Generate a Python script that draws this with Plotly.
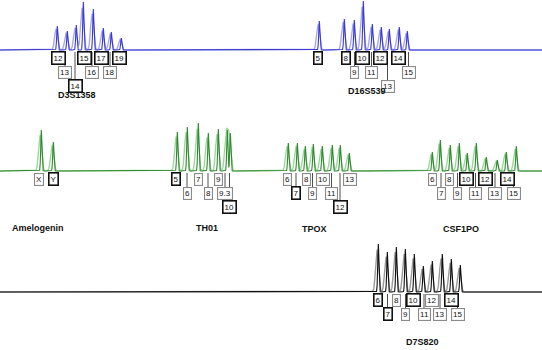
import numpy as np
import plotly.graph_objects as go

# ---------------- data (peak size position, relative height) ----------------
# Row 1 (blue dye)
d3_alleles = ["12", "13", "14", "15", "16", "17", "18", "19"]
d3_pos = [57, 67, 76, 83, 93, 103, 111, 121]
d3_height = [24, 19, 25, 48, 41, 22, 18, 12]

d16_alleles = ["5", "8", "9", "10", "11", "12", "13", "14", "15"]
d16_pos = [319, 344, 354, 363, 372, 381, 389, 399, 407]
d16_height = [29, 31, 30, 49, 26, 23, 21, 23, 19]

# Row 2 (green dye)
amel_alleles = ["X", "Y"]
amel_pos = [41, 53]
amel_height = [41, 29]

th01_alleles = ["5", "6", "7", "8", "9", "9.3", "10"]
th01_pos = [177, 187, 198, 208, 218, 227, 230]
th01_height = [39, 44, 48, 38, 42, 41, 38]

tpox_alleles = ["6", "7", "8", "9", "10", "11", "12", "13"]
tpox_pos = [288, 297, 305, 313, 322, 332, 340, 349]
tpox_height = [28, 28, 25, 27, 25, 26, 26, 18]

csf_alleles = ["6", "7", "8", "9", "10", "11", "12", "13", "14", "15"]
csf_pos = [432, 440, 450, 459, 467, 476, 486, 497, 506, 516]
csf_height = [19, 31, 26, 28, 18, 28, 14, 11, 19, 25]

# Row 3 (black dye)
d7_alleles = ["6", "7", "8", "9", "10", "11", "12", "13", "14", "15"]
d7_pos = [378, 387, 396, 405, 414, 423, 432, 442, 451, 460]
d7_height = [48, 40, 45, 43, 38, 26, 31, 38, 33, 27]

# ---------------- label layout / style (not data) ----------------
loci = [
    # name, alleles, pos, heights, label x, label tier, bold box, row, name x, name y
    ("D3S1358", d3_alleles, d3_pos, d3_height,
     [58, 65, 75, 84, 92, 101.5, 110, 119.5], [1, 2, 3, 1, 2, 1, 2, 1],
     [1, 0, 1, 1, 0, 1, 0, 1], 1, 77, -45),
    ("D16S539", d16_alleles, d16_pos, d16_height,
     [318, 345.5, 354.5, 362.5, 371.5, 380, 387.5, 398, 408.5], [1, 1, 2, 1, 2, 1, 3, 1, 2],
     [1, 1, 0, 1, 0, 1, 0, 1, 0], 1, 367, -41),
    ("Amelogenin", amel_alleles, amel_pos, amel_height,
     [39, 53], [1, 1], [0, 1], 2, 38, -57),
    ("TH01", th01_alleles, th01_pos, th01_height,
     [175.5, 187, 198.5, 208, 218, 225, 229.5], [1, 2, 1, 2, 1, 2, 3],
     [1, 0, 0, 0, 0, 0, 1], 2, 207, -57),
    ("TPOX", tpox_alleles, tpox_pos, tpox_height,
     [287.5, 296, 306, 312.5, 323, 331.5, 340, 350], [1, 2, 1, 2, 1, 2, 3, 1],
     [0, 1, 0, 0, 0, 0, 1, 0], 2, 314, -58),
    ("CSF1PO", csf_alleles, csf_pos, csf_height,
     [432, 441, 449.5, 457.5, 466.5, 475.5, 485.5, 495, 507, 513.5], [1, 2, 1, 2, 1, 2, 1, 2, 1, 2],
     [0, 0, 0, 0, 1, 0, 1, 0, 1, 0], 2, 461, -58),
    ("D7S820", d7_alleles, d7_pos, d7_height,
     [377.5, 387.5, 396, 405.5, 413, 424, 432, 440, 451.5, 457.5], [1, 2, 1, 2, 1, 2, 1, 2, 1, 2],
     [1, 1, 0, 0, 1, 0, 0, 0, 1, 0], 3, 422, -50),
]

row_colors = {1: ("#3a3ad0", "#a9a9f2"), 2: ("#2f8a2f", "#9fd69f"), 3: ("#111111", "#9a9a9a")}
tier_offset = {1: 8, 2: 22, 3: 36}

xgrid = np.linspace(0, 542, 5421)

fig = go.Figure()
for row in (1, 2, 3):
    dark, light = row_colors[row]
    ys_light = np.zeros_like(xgrid)
    ys_dark = np.zeros_like(xgrid)
    for (name, al, pos, hts, lx, tier, bold, r, nx, ny) in loci:
        if r != row:
            continue
        for p, h in zip(pos, hts):
            ys_light += 0.88 * h * np.exp(-0.5 * ((xgrid - (p - 0.9)) / 1.5) ** 2)
            ys_dark += h * np.exp(-0.5 * ((xgrid - (p + 0.3)) / 0.6) ** 2)
    yname = "y" if row == 1 else f"y{row}"
    fig.add_trace(go.Scatter(x=xgrid, y=ys_light, mode="lines", yaxis=yname,
                             line=dict(color=light, width=1.4), hoverinfo="skip", showlegend=False))
    fig.add_trace(go.Scatter(x=xgrid, y=ys_dark, mode="lines", yaxis=yname,
                             line=dict(color=dark, width=1.1), hoverinfo="skip", showlegend=False))

annotations = []
shapes = []
for (name, al, pos, hts, lx, tier, bold, r, nx, ny) in loci:
    yref = "y" if r == 1 else f"y{r}"
    for a, x, t, b in zip(al, lx, tier, bold):
        off = tier_offset[t]
        if t > 1:
            shapes.append(dict(type="line", xref="x", yref=yref, x0=x, x1=x, y0=-2, y1=-off + 5,
                               line=dict(color="#222222", width=0.8), layer="below"))
        annotations.append(dict(x=x, y=-off, xref="x", yref=yref, text=a, showarrow=False,
                                font=dict(family="Liberation Sans, Arial", size=8, color="#111111"),
                                bgcolor="white", bordercolor="#111111" if b else "#8a8a8a",
                                borderwidth=1.6 if b else 1.1, borderpad=1))
    annotations.append(dict(x=nx, y=ny, xref="x", yref=yref, text=f"<b>{name}</b>", showarrow=False,
                            font=dict(family="Liberation Sans, Arial", size=9, color="#111111")))

fig.update_layout(
    width=542, height=350, margin=dict(l=0, r=0, t=0, b=0),
    paper_bgcolor="white", plot_bgcolor="white",
    xaxis=dict(range=[0, 542], visible=False, fixedrange=True),
    yaxis=dict(domain=[1 - 100 / 350, 1], range=[-50, 50], visible=False, anchor="x", fixedrange=True),
    yaxis2=dict(domain=[1 - 235 / 350, 1 - 115 / 350], range=[-64, 56], visible=False, anchor="x", fixedrange=True),
    yaxis3=dict(domain=[0, 1 - 240 / 350], range=[-58, 52], visible=False, anchor="x", fixedrange=True),
    annotations=annotations, shapes=shapes, showlegend=False,
)
fig.write_html("out.html", config={"displayModeBar": False},
               post_script="document.body.style.margin='0';document.body.style.overflow='hidden';")
